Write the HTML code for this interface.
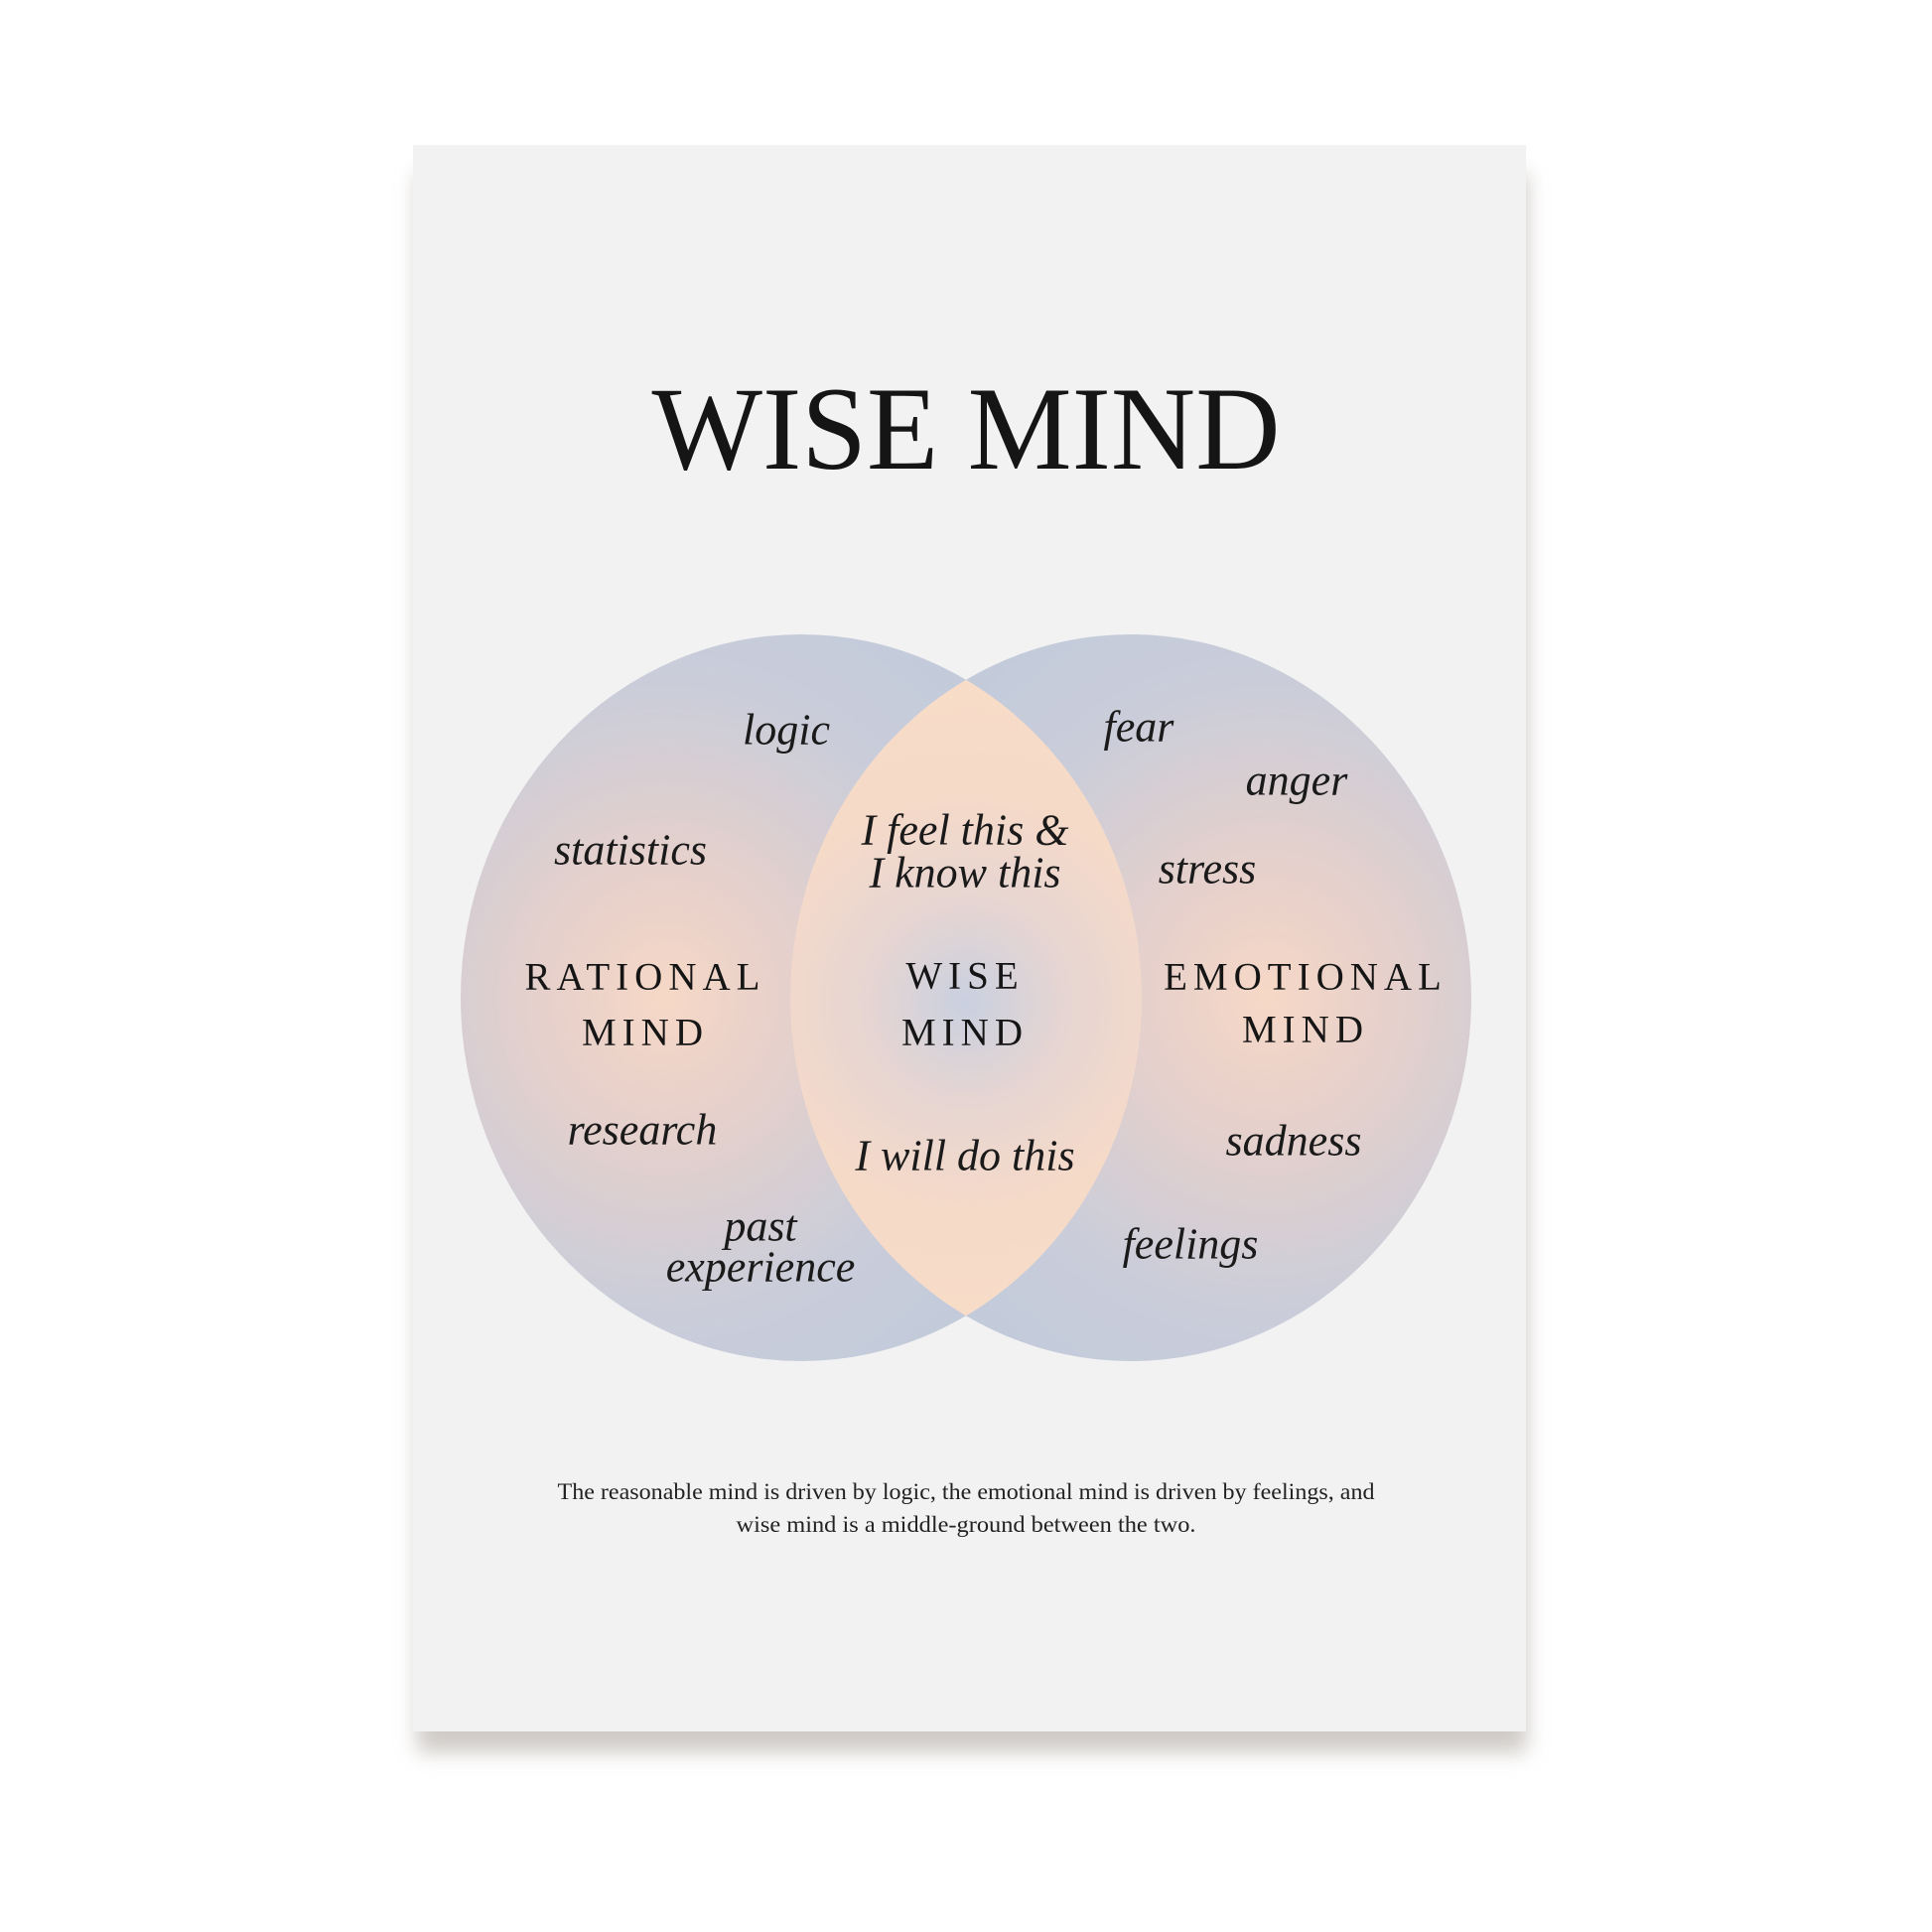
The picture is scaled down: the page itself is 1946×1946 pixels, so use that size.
<!DOCTYPE html>
<html><head><meta charset="utf-8"><style>
html,body{margin:0;padding:0;background:#fff;}
svg{display:block;}
.it{font-family:"Liberation Serif",serif;font-style:italic;fill:#1a1a1a;}
</style></head><body>
<svg width="1946" height="1946" viewBox="0 0 1946 1946" xmlns="http://www.w3.org/2000/svg">
<defs>
<filter id="sh" x="-10%" y="-10%" width="120%" height="130%"><feGaussianBlur stdDeviation="10"/></filter>
<radialGradient id="gl" cx="0.3" cy="0.5" r="0.6">
<stop offset="0" stop-color="#f6d8c6"/><stop offset="0.3" stop-color="#e6d0cb"/><stop offset="0.7" stop-color="#cbcdd9"/><stop offset="1" stop-color="#c3cbdb"/>
</radialGradient>
<radialGradient id="gr" cx="0.7" cy="0.5" r="0.6">
<stop offset="0" stop-color="#f6d8c6"/><stop offset="0.3" stop-color="#e6d0cb"/><stop offset="0.7" stop-color="#cbcdd9"/><stop offset="1" stop-color="#c3cbdb"/>
</radialGradient>
<radialGradient id="glens" gradientUnits="userSpaceOnUse" cx="973" cy="1010" r="330">
<stop offset="0" stop-color="#c9d0e0"/><stop offset="0.3" stop-color="#e6d5d2"/><stop offset="0.65" stop-color="#f6dac8"/><stop offset="1" stop-color="#f7dcc8"/>
</radialGradient>
<clipPath id="cl"><ellipse cx="807" cy="1005" rx="343" ry="366"/></clipPath>
</defs>
<rect x="420" y="175" width="1118" height="1590" fill="#cfcac6" filter="url(#sh)"/>
<rect x="416" y="146" width="1121" height="1598" fill="#f2f2f2"/>
<text x="973" y="472" font-size="120" text-anchor="middle" textLength="633" lengthAdjust="spacingAndGlyphs" style="font-family:'Liberation Serif',serif;fill:#151515">WISE MIND</text>
<ellipse cx="807" cy="1005" rx="343" ry="366" fill="url(#gl)"/>
<ellipse cx="1139" cy="1005" rx="343" ry="366" fill="url(#gr)"/>
<ellipse cx="1139" cy="1005" rx="343" ry="366" fill="url(#glens)" clip-path="url(#cl)"/>
<g class="it" font-size="44" text-anchor="middle" dominant-baseline="central">
<text x="792" y="735">logic</text>
<text x="635" y="856">statistics</text>
<text x="647" y="1138">research</text>
<text x="766" y="1235">past</text>
<text x="766" y="1276">experience</text>
<text x="972" y="836">I feel this &amp;</text>
<text x="972" y="879">I know this</text>
<text x="972" y="1164">I will do this</text>
<text x="1147" y="732">fear</text>
<text x="1306" y="786">anger</text>
<text x="1216" y="875">stress</text>
<text x="1303" y="1149">sadness</text>
<text x="1199" y="1253">feelings</text>
</g>
<g font-size="39" text-anchor="middle" dominant-baseline="central" style="font-family:'Liberation Serif',serif;fill:#151515;letter-spacing:6px">
<text x="650" y="984">RATIONAL</text>
<text x="650" y="1040">MIND</text>
<text x="972" y="983">WISE</text>
<text x="972" y="1040">MIND</text>
<text x="1315" y="984">EMOTIONAL</text>
<text x="1315" y="1037">MIND</text>
</g>
<g font-size="23" text-anchor="middle" style="font-family:'Liberation Serif',serif;fill:#222">
<text x="973" y="1510" textLength="823" lengthAdjust="spacingAndGlyphs">The reasonable mind is driven by logic, the emotional mind is driven by feelings, and</text>
<text x="973" y="1543" textLength="463" lengthAdjust="spacingAndGlyphs">wise mind is a middle-ground between the two.</text>
</g>
</svg>
</body></html>
